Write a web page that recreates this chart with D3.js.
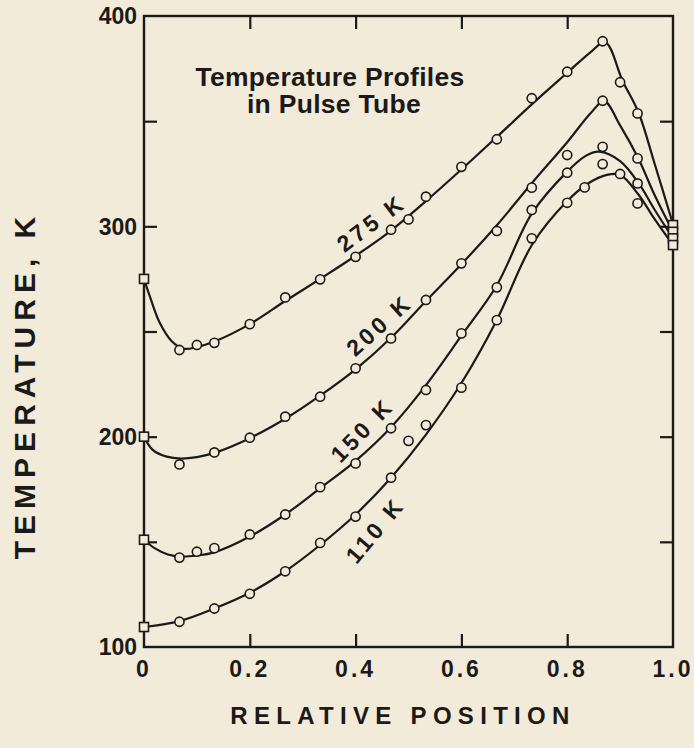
<!DOCTYPE html>
<html>
<head>
<meta charset="utf-8">
<script src="https://cdn.jsdelivr.net/npm/d3@7"></script>
<style>
  html, body { margin: 0; padding: 0; background: #f2ebda; }
  svg { display: block; }
  text { font-family: "Liberation Sans", Arial, Helvetica, sans-serif; font-weight: bold; fill: #1c1a18; }
</style>
</head>
<body>
<svg id="chart" width="694" height="748"></svg>
<script>
// ---------- data ----------
const xTicks = [0, 0.2, 0.4, 0.6, 0.8, 1.0];
const xTickLabels = ["0", "0.2", "0.4", "0.6", "0.8", "1.0"];
const yTicks = [100, 200, 300, 400];
const yMinorTicks = [150, 200, 250, 300, 350];
const seriesNames = ["275 K", "200 K", "150 K", "110 K"];

// measured points (circles)
const pos275 = [0.067, 0.1, 0.133, 0.2, 0.267, 0.333, 0.4, 0.467, 0.5, 0.533, 0.6, 0.667, 0.733, 0.8, 0.867, 0.9, 0.933];
const t275   = [241.2, 243.6, 244.6, 253.5, 266.2, 274.8, 285.5, 298.4, 303.3, 314.1, 328.3, 341.4, 360.9, 373.5, 388, 368.5, 353.7];
const pos200 = [0.067, 0.133, 0.2, 0.267, 0.333, 0.4, 0.467, 0.533, 0.6, 0.667, 0.733, 0.8, 0.867, 0.933];
const t200   = [186.8, 192.5, 199.5, 209.5, 219, 232.5, 246.7, 265, 282.4, 297.8, 318.4, 333.9, 359.7, 332.3];
const pos150 = [0.067, 0.1, 0.133, 0.2, 0.267, 0.333, 0.4, 0.467, 0.533, 0.6, 0.667, 0.733, 0.8, 0.867, 0.933];
const t150   = [142.5, 145.3, 147, 153.5, 163, 176, 187.3, 204, 222.2, 249.1, 271, 307.8, 325.5, 337.8, 320.4];
const pos110 = [0.067, 0.133, 0.2, 0.267, 0.333, 0.4, 0.467, 0.5, 0.533, 0.6, 0.667, 0.733, 0.8, 0.833, 0.867, 0.9, 0.933];
const t110   = [112, 118.3, 125.3, 136, 149.5, 162, 180.5, 198, 205.5, 223.3, 255.4, 294.3, 311.2, 318.5, 329.6, 324.9, 310.9];

// end-point squares (x = 0 and x = 1.0)
const squareLeft  = [275, 200, 151, 109.5];
const squareRight = [300.6, 297.4, 294.3, 291.1];

// fitted curves
const c275x = [0, 0.012, 0.03, 0.052, 0.075, 0.1, 0.133, 0.2, 0.267, 0.333, 0.4, 0.467, 0.533, 0.6, 0.667, 0.733, 0.8, 0.845, 0.872, 0.905, 0.935, 0.965, 1.0];
const c275t = [275, 266, 254, 245.5, 241.8, 242.6, 245.2, 253.5, 264.5, 275, 286, 298, 312, 327, 342.5, 358, 373, 383, 387.5, 369, 354, 330, 301];
const c200x = [0, 0.017, 0.043, 0.07, 0.1, 0.133, 0.2, 0.267, 0.333, 0.4, 0.467, 0.533, 0.6, 0.667, 0.733, 0.8, 0.845, 0.87, 0.9, 0.935, 0.965, 1.0];
const c200t = [200, 193.6, 190.5, 189.6, 190.3, 192.3, 199.3, 208.5, 219.5, 232, 247, 264.5, 282, 300.5, 320.5, 340, 354, 359.5, 348, 332, 315, 297.4];
const c150x = [0, 0.02, 0.045, 0.07, 0.1, 0.133, 0.2, 0.267, 0.333, 0.4, 0.467, 0.533, 0.6, 0.667, 0.733, 0.8, 0.835, 0.86, 0.9, 0.935, 0.965, 1.0];
const c150t = [151, 147, 144, 143, 143.5, 145, 152.5, 163, 175.5, 188.5, 204.5, 224.5, 248, 272, 306, 326, 333.5, 335.5, 331, 320.5, 308, 294.3];
const c110x = [0, 0.067, 0.133, 0.2, 0.267, 0.333, 0.4, 0.467, 0.533, 0.6, 0.667, 0.733, 0.8, 0.84, 0.875, 0.9, 0.935, 0.965, 1.0];
const c110t = [109.5, 112.3, 118.3, 125.8, 136, 148.5, 163, 180.5, 201, 225.5, 255.5, 291, 312, 320.5, 324.5, 324.5, 315, 303.5, 291.1];

// ---------- layout ----------
const svg = d3.select("#chart");
const W = 694, H = 748;
const ink = "#1c1a18", paper = "#f2ebda";
const x = d3.scaleLinear().domain([0, 1]).range([144, 673]);
const y = d3.scaleLinear().domain([100, 400]).range([647, 16]);

svg.append("rect").attr("width", W).attr("height", H).attr("fill", paper);

// frame
svg.append("rect")
  .attr("x", x(0)).attr("y", y(400))
  .attr("width", x(1) - x(0)).attr("height", y(100) - y(400))
  .attr("fill", "none").attr("stroke", ink).attr("stroke-width", 2.4);

// axes via d3 axis generators (inward ticks)
const tickLen = 13;
const gB = svg.append("g").attr("transform", `translate(0,${y(100)})`)
  .call(d3.axisTop(x).tickValues([0.2, 0.4, 0.6, 0.8]).tickSize(tickLen).tickFormat(""));
const gT = svg.append("g").attr("transform", `translate(0,${y(400)})`)
  .call(d3.axisBottom(x).tickValues([0.2, 0.4, 0.6, 0.8]).tickSize(tickLen).tickFormat(""));
const gL = svg.append("g").attr("transform", `translate(${x(0)},0)`)
  .call(d3.axisRight(y).tickValues(yMinorTicks).tickSize(tickLen).tickFormat(""));
const gR = svg.append("g").attr("transform", `translate(${x(1)},0)`)
  .call(d3.axisLeft(y).tickValues(yMinorTicks).tickSize(tickLen).tickFormat(""));
[gB, gT, gL, gR].forEach(g => {
  g.select(".domain").remove();
  g.selectAll("line").attr("stroke", ink).attr("stroke-width", 2.2);
});

// tick labels
svg.append("g").selectAll("text").data(xTicks).join("text")
  .attr("x", d => x(d)).attr("y", 677)
  .attr("text-anchor", "middle").attr("font-size", 23).attr("letter-spacing", 3)
  .text((d, i) => xTickLabels[i]);
svg.append("g").selectAll("text").data(yTicks).join("text")
  .attr("x", 137).attr("y", d => y(d)).attr("dy", "0.36em")
  .attr("text-anchor", "end").attr("font-size", 23)
  .text(d => d);

// axis titles
svg.append("text").attr("x", 403).attr("y", 724).attr("text-anchor", "middle")
  .attr("font-size", 24).attr("letter-spacing", 6.3).text("RELATIVE POSITION");
svg.append("text").attr("transform", "translate(35,385) rotate(-90)").attr("text-anchor", "middle")
  .attr("font-size", 30).attr("letter-spacing", 6).text("TEMPERATURE, K");

// inset title
svg.append("text").attr("x", 330).attr("y", 86).attr("text-anchor", "middle")
  .attr("font-size", 26.5).attr("letter-spacing", 0.3).text("Temperature Profiles");
svg.append("text").attr("x", 334).attr("y", 113).attr("text-anchor", "middle")
  .attr("font-size", 26.5).attr("letter-spacing", 0.3).text("in Pulse Tube");

// curves
const line = d3.line().x(d => x(d[0])).y(d => y(d[1])).curve(d3.curveCatmullRom.alpha(0.5));
const curves = [[c275x, c275t], [c200x, c200t], [c150x, c150t], [c110x, c110t]];
svg.append("g").selectAll("path").data(curves).join("path")
  .attr("d", c => line(c[0].map((v, i) => [v, c[1][i]])))
  .attr("fill", "none").attr("stroke", ink).attr("stroke-width", 2.2);

// squares
const sq = 9;
const squares = squareLeft.map(v => [0, v]).concat(squareRight.map(v => [1, v]));
svg.append("g").selectAll("rect").data(squares).join("rect")
  .attr("x", d => x(d[0]) - sq / 2).attr("y", d => y(d[1]) - sq / 2)
  .attr("width", sq).attr("height", sq)
  .attr("fill", paper).attr("stroke", ink).attr("stroke-width", 1.6);

// circles
const pts = [[pos275, t275], [pos200, t200], [pos150, t150], [pos110, t110]]
  .flatMap(s => s[0].map((v, i) => [v, s[1][i]]));
svg.append("g").selectAll("circle").data(pts).join("circle")
  .attr("cx", d => x(d[0])).attr("cy", d => y(d[1])).attr("r", 4.6)
  .attr("fill", paper).attr("stroke", ink).attr("stroke-width", 1.6);

// curve labels
const labelPos = [[371, 223, -37], [379, 325, -42], [362, 430, -46], [375, 530, -50]];
svg.append("g").selectAll("text").data(seriesNames).join("text")
  .attr("transform", (d, i) => `translate(${labelPos[i][0]},${labelPos[i][1]}) rotate(${labelPos[i][2]})`)
  .attr("text-anchor", "middle").attr("dy", "0.36em")
  .attr("font-size", 23).attr("letter-spacing", 3.5)
  .text(d => d);
</script>
</body>
</html>
